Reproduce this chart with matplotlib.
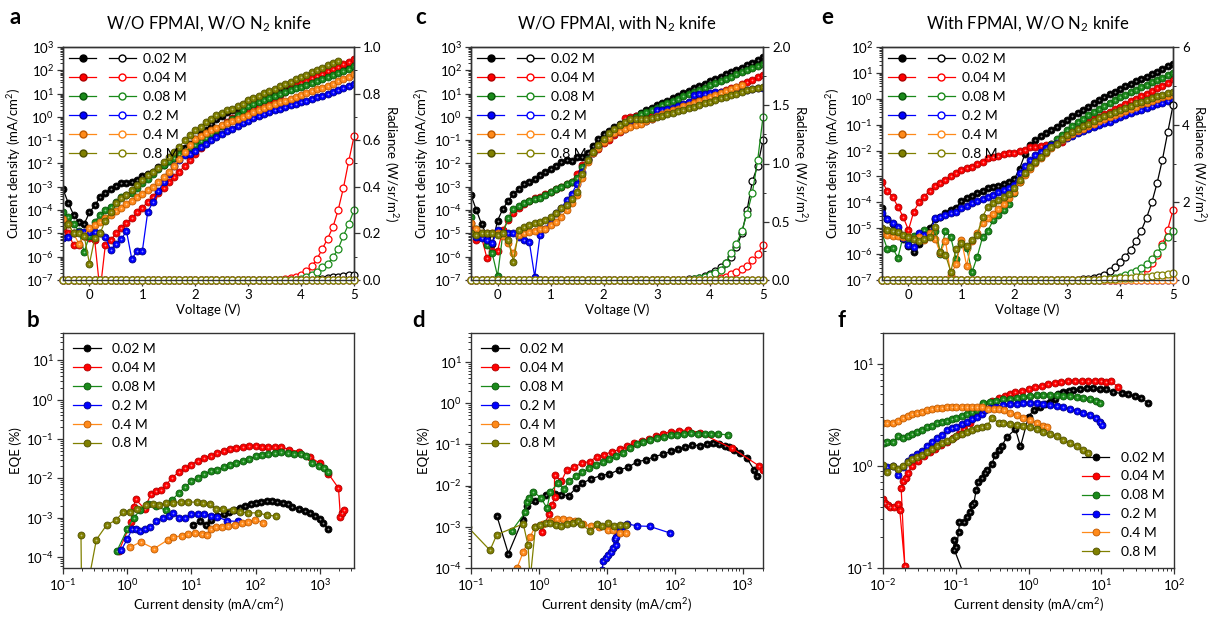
import numpy as np
import matplotlib
matplotlib.use("Agg")
import matplotlib.pyplot as plt
from matplotlib.lines import Line2D
from matplotlib.legend_handler import HandlerTuple
from matplotlib.ticker import LogLocator, MultipleLocator, NullFormatter, FormatStrFormatter

plt.rcParams['font.family'] = ['Lato', 'DejaVu Sans']
plt.rcParams['mathtext.fontset'] = 'custom'
plt.rcParams['mathtext.rm'] = 'Lato'
plt.rcParams['mathtext.it'] = 'Lato:italic'
plt.rcParams['mathtext.bf'] = 'Lato:bold'

# ---------------- data ----------------
labels = ['0.02 M', '0.04 M', '0.08 M', '0.2 M', '0.4 M', '0.8 M']
colors = ['#000000', '#ff0000', '#1a8a1a', '#0000ff', '#ff8a1a', '#808000']
edges = ['#000000', '#b00000', '#0a550a', '#00008a', '#c05a00', '#505000']

volts = [-0.5, -0.4, -0.3, -0.2, -0.1, 0.0, 0.1, 0.2, 0.3, 0.4,
         0.5, 0.6, 0.7, 0.8, 0.9, 1.0, 1.1, 1.2, 1.3, 1.4,
         1.5, 1.6, 1.7, 1.8, 1.9, 2.0, 2.1, 2.2, 2.3, 2.4,
         2.5, 2.6, 2.7, 2.8, 2.9, 3.0, 3.1, 3.2, 3.3, 3.4,
         3.5, 3.6, 3.7, 3.8, 3.9, 4.0, 4.1, 4.2, 4.3, 4.4,
         4.5, 4.6, 4.7, 4.8, 4.9, 5.0]

# panel a: log10 current density (mA/cm2)
a_black = [-3.1, -3.7, -4.2, -4.5, -4.6, -4.1, -3.8, -3.45, -3.25, -3.1,
           -2.95, -2.85, -2.85, -2.8, -2.7, -2.55, -2.45, -2.35, -2.15, -2.05,
           -1.9, -1.75, -1.55, -1.35, -1.15, -0.95, -0.75, -0.55, -0.3, -0.1,
           0.05, 0.2, 0.3, 0.4, 0.5, 0.7, 0.75, 0.8, 0.87, 0.95,
           1.03, 1.1, 1.18, 1.25, 1.33, 1.4, 1.48, 1.56, 1.64, 1.72,
           1.8, 1.88, 1.96, 2.04, 2.12, 2.2]
a_red = [-4.8, -5.0, -5.5, -5.5, -5.1, -5.2, -5.3, -7.5, -5.5, -5.3,
         -5.0, -4.75, -4.55, -4.35, -4.1, -3.9, -3.65, -3.45, -3.25, -3.05,
         -2.8, -2.6, -2.35, -2.1, -1.85, -1.6, -1.35, -1.1, -0.85, -0.6,
         -0.4, -0.2, -0.05, 0.1, 0.22, 0.32, 0.4, 0.47, 0.56, 0.67,
         0.8, 0.93, 1.05, 1.2, 1.35, 1.45, 1.55, 1.65, 1.75, 1.85,
         1.95, 2.05, 2.15, 2.25, 2.37, 2.48]
a_green = [-4.1, -4.3, -4.6, -4.9, -5.8, -5.1, -4.5, -4.2, -4.0, -3.85,
           -3.65, -3.45, -3.35, -3.25, -3.05, -2.85, -2.65, -2.45, -2.25, -2.05,
           -1.9, -1.75, -1.6, -1.5, -1.35, -1.2, -1.05, -0.9, -0.72, -0.55,
           -0.4, -0.25, -0.1, 0.1, 0.3, 0.45, 0.55, 0.64, 0.73, 0.82,
           0.9, 0.98, 1.06, 1.14, 1.22, 1.3, 1.38, 1.46, 1.54, 1.62,
           1.7, 1.78, 1.87, 1.96, 2.06, 2.2]
a_blue = [-5.2, -5.15, -5.0, -4.95, -4.95, -4.95, -4.95, -5.0, -5.15, -5.7,
          -5.45, -5.25, -4.9, -6.1, -5.75, -5.75, -4.1, -3.65, -3.2, -2.8,
          -2.45, -2.1, -1.85, -1.65, -1.6, -1.45, -1.3, -1.15, -1.0, -0.87,
          -0.74, -0.62, -0.5, -0.38, -0.27, -0.16, -0.06, 0.04, 0.13, 0.21,
          0.28, 0.35, 0.42, 0.49, 0.56, 0.63, 0.7, 0.77, 0.84, 0.91,
          0.98, 1.06, 1.14, 1.23, 1.32, 1.42]
a_orange = [-4.4, -4.6, -5.0, -5.45, -5.1, -4.75, -4.65, -4.5, -4.35, -4.2,
            -4.05, -3.9, -3.75, -3.6, -3.45, -3.3, -3.15, -3.0, -2.8, -2.6,
            -2.35, -2.1, -1.8, -1.5, -1.2, -0.95, -0.8, -0.68, -0.57, -0.46,
            -0.36, -0.26, -0.17, -0.08, 0.01, 0.1, 0.19, 0.28, 0.37, 0.46,
            0.54, 0.62, 0.7, 0.78, 0.86, 0.94, 1.02, 1.1, 1.18, 1.26,
            1.34, 1.43, 1.52, 1.62, 1.72, 1.83]
a_olive = [-4.7, -4.6, -5.0, -5.0, -5.1, -6.3, -5.2, -5.0, -4.45, -4.07,
           -3.7, -3.5, -3.36, -3.14, -2.93, -2.71, -2.5, -2.36, -2.21, -1.93,
           -1.71, -1.5, -1.29, -1.0, -0.79, -0.57, -0.43, -0.21, -0.07, 0.07,
           0.17, 0.29, 0.36, 0.46, 0.54, 0.71, 0.81, 0.91, 1.01, 1.11,
           1.21, 1.31, 1.41, 1.51, 1.61, 1.71, 1.81, 1.91, 2.01, 2.11,
           2.21, 2.31, 2.41, None, None, None]
# panel a: radiance (W/sr/m2)
a_black_rad = [0] * 40 + [0, 0, 0, 0, 0, 0.001, 0.002, 0.003, 0.004, 0.005,
                          0.008, 0.011, 0.014, 0.017, 0.02, 0.022]
a_red_rad = [0] * 40 + [0, 0.002, 0.004, 0.008, 0.014, 0.023, 0.037, 0.059, 0.09, 0.133,
                        0.177, 0.226, 0.30, 0.395, 0.51, 0.616]
a_green_rad = [0] * 40 + [0, 0, 0, 0, 0.002, 0.005, 0.012, 0.02, 0.033, 0.054,
                          0.069, 0.097, 0.133, 0.19, 0.24, 0.30]
a_blue_rad = [0] * 56
a_orange_rad = [0] * 56
a_olive_rad = [0] * 56

# panel c
c_black = [-3.35, -4.0, -4.6, -5.1, -5.45, -4.45, -3.95, -3.6, -3.3, -3.1,
           -2.9, -2.8, -2.65, -2.5, -2.38, -2.25, -2.1, -1.95, -1.85, -1.9,
           -1.7, -1.72, -1.55, -1.25, -0.95, -0.75, -0.6, -0.45, -0.32, -0.2,
           -0.08, 0.05, 0.17, 0.29, 0.4, 0.5, 0.6, 0.7, 0.8, 0.9,
           1.02, 1.12, 1.22, 1.32, 1.42, 1.52, 1.62, 1.72, 1.82, 1.92,
           2.02, 2.12, 2.22, 2.32, 2.43, 2.55]
c_red = [-4.57, -5.29, -5.17, -6.07, -5.74, -5.74, -4.86, -4.43, -4.11, -3.93,
         -3.74, -3.6, -3.5, -3.43, -3.33, -3.21, -3.11, -3.0, -2.89, -2.79,
         -2.43, -2.07, -1.79, -1.57, -1.36, -1.14, -0.97, -0.79, -0.64, -0.05,
         0.0, 0.04, 0.08, 0.12, 0.16, 0.2, 0.25, 0.3, 0.36, 0.42,
         0.5, 0.58, 0.66, 0.74, 0.82, 0.9, 0.98, 1.06, 1.14, 1.22,
         1.3, 1.4, 1.5, 1.6, 1.7, 1.8]
c_green = [-4.29, -4.83, -5.14, -5.5, -5.86, -6.83, -5.0, -4.36, -3.97, -3.83,
           -3.71, -3.61, -3.54, -3.46, -3.36, -3.24, -3.11, -3.0, -2.9, -2.79,
           -2.64, -2.14, -1.79, -1.5, -1.26, -1.0, -0.79, -0.61, -0.43, -0.26,
           -0.11, 0.0, 0.11, 0.2, 0.29, 0.4, 0.5, 0.59, 0.69, 0.78,
           0.88, 0.97, 1.07, 1.16, 1.25, 1.35, 1.44, 1.54, 1.63, 1.73,
           1.82, 1.91, 2.01, 2.1, 2.2, 2.29]
c_blue = [-5.0, -5.17, -5.21, -5.29, -5.43, -4.86, -5.07, -5.0, -5.0, -5.15,
          -5.29, -5.39, -6.86, -5.07, -4.79, -4.43, -4.14, -3.93, -3.57, -3.29,
          -2.86, -2.36, -1.86, -1.57, -1.29, -1.04, -0.86, -0.71, -0.57, -0.5,
          -0.4, -0.31, -0.26, -0.17, -0.11, 0.29, 0.31, 0.35, 0.4, 0.47,
          0.55, 0.62, 0.93, 0.97, 1.0, 1.03, 1.05, 1.07, 1.09, 1.11,
          1.13, 1.15, 1.17, 1.2, 1.22, 1.25]
c_orange = [-4.54, -4.8, -5.0, -5.0, -5.0, -5.0, -5.1, -5.43, -5.86, -5.07,
            -5.0, -4.93, -4.9, -4.83, -4.79, -4.64, -4.5, -4.29, -4.0, -3.71,
            -3.36, -2.64, -1.93, -1.57, -1.33, -1.07, -0.89, -0.71, -0.6, -0.5,
            -0.43, -0.36, -0.29, -0.17, -0.07, 0.03, 0.11, 0.2, 0.28, 0.36,
            0.45, 0.53, 0.61, 0.7, 0.78, 0.86, 0.95, 1.03, 1.11, 1.2,
            1.28, 1.36, None, None, None, None]
c_olive = [-5.0, -5.07, -5.0, -5.0, -5.0, -5.07, -5.0, -5.29, -6.21, -4.86,
           -4.71, -4.64, -4.57, -4.5, -4.43, -4.29, -4.14, -3.93, -3.79, -3.54,
           -3.21, -2.43, -1.86, -1.5, -1.19, -0.93, -0.71, -0.54, -0.36, -0.21,
           -0.11, -0.07, -0.07, -0.07, -0.03, 0.0, 0.06, 0.12, 0.18, 0.24,
           0.3, 0.37, 0.44, 0.51, 0.58, 0.65, 0.72, 0.79, 0.86, 0.93,
           1.0, 1.07, 1.14, 1.2, 1.25, 1.3]
c_black_rad = [0] * 40 + [0, 0.005, 0.01, 0.02, 0.035, 0.05, 0.08, 0.11, 0.15, 0.2,
                          0.28, 0.4, 0.6, 0.85, 0.98, 1.2]
c_red_rad = [0] * 40 + [0, 0, 0, 0, 0, 0, 0.005, 0.015, 0.025, 0.05,
                        0.066, 0.095, 0.12, 0.17, 0.22, 0.3]
c_green_rad = [0] * 40 + [0, 0.003, 0.008, 0.015, 0.025, 0.04, 0.06, 0.09, 0.15, 0.23,
                          0.31, 0.42, 0.57, 0.75, 1.03, 1.4]
c_blue_rad = [0] * 56
c_orange_rad = [0] * 56
c_olive_rad = [0] * 56

# panel e
e_black = [-4.2, -4.65, -4.85, -5.1, -5.4, -5.7, -5.9, -5.6, -5.3, -5.0,
           -4.65, -4.55, -4.4, -4.3, -4.2, -3.95, -3.85, -3.75, -3.65, -3.55,
           -3.45, -3.4, -3.35, -3.3, -3.22, -3.1, -2.7, -2.15, -1.8, -1.6,
           -1.45, -1.32, -1.2, -1.08, -0.95, -0.82, -0.68, -0.55, -0.42, -0.3,
           -0.17, -0.05, 0.07, 0.18, 0.28, 0.38, 0.48, 0.58, 0.67, 0.76,
           0.85, 0.95, 1.05, 1.15, 1.25, 1.36]
e_red = [-3.2, -3.55, -3.78, -4.17, -4.56, -5.07, -4.36, -4.0, -3.78, -3.55,
         -3.36, -3.24, -3.12, -2.99, -2.86, -2.76, -2.69, -2.63, -2.52, -2.43,
         -2.27, -2.24, -2.22, -2.14, -2.11, -2.09, -2.01, -1.96, -1.88, -1.86,
         -1.83, -1.79, -1.75, -1.7, -1.66, -1.45, -1.3, -1.15, -1.02, -0.9,
         -0.8, -0.7, -0.6, -0.5, -0.4, -0.3, -0.2, -0.1, 0.0, 0.1,
         0.2, 0.3, 0.4, 0.5, 0.62, 0.75]
e_green = [-5.2, -5.8, -5.75, -6.15, -5.3, -5.55, -5.3, -5.45, -5.05, -5.25,
           -5.1, -6.0, -5.1, -5.35, -6.2, -5.6, -5.75, -6.7, -6.1, -5.35,
           -5.1, -4.7, -4.5, -4.3, -4.05, -3.65, -3.2, -2.9, -2.62, -2.4,
           -2.18, -1.96, -1.76, -1.57, -1.4, -1.2, -1.05, -0.9, -0.77, -0.64,
           -0.52, -0.4, -0.28, -0.15, -0.05, 0.05, 0.15, 0.25, 0.35, 0.45,
           0.54, 0.63, 0.72, 0.81, 0.9, 0.98]
e_blue = [-4.43, -4.66, -4.79, -4.94, -5.39, -5.65, -5.71, -5.2, -5.25, -5.3,
          -4.62, -4.56, -4.49, -4.43, -4.36, -4.23, -4.14, -4.04, -3.95, -3.87,
          -3.81, -3.72, -3.62, -3.53, -3.46, -3.33, -2.88, -2.59, -2.37, -2.18,
          -2.05, -1.92, -1.8, -1.7, -1.6, -1.5, -1.42, -1.34, -1.26, -1.18,
          -1.1, -1.02, -0.95, -0.88, -0.8, -0.72, -0.64, -0.56, -0.49, -0.42,
          -0.35, -0.28, -0.21, -0.15, -0.1, -0.05]
e_orange = [-5.2, -5.25, -5.3, -5.3, -5.35, -5.3, -5.4, -5.35, -5.45, -5.2,
            -5.4, -5.95, -5.5, -6.8, -6.4, -5.45, -6.45, -5.5, -5.2, -4.8,
            -4.6, -4.45, -4.25, -4.05, -3.85, -3.6, -3.2, -2.95, -2.7, -2.47,
            -2.27, -2.09, -1.92, -1.75, -1.6, -1.47, -1.36, -1.25, -1.15, -1.05,
            -0.96, -0.87, -0.78, -0.7, -0.62, -0.54, -0.46, -0.38, -0.3, -0.22,
            -0.15, -0.08, -0.01, 0.05, 0.1, 0.15]
e_olive = [-5.0, -5.07, -5.1, -5.13, -5.26, -5.33, -5.43, -5.48, -5.43, -5.33,
           -4.94, -5.9, -6.03, -6.68, -5.8, -5.58, -5.7, -5.46, -5.25, -4.56,
           -4.17, -4.04, -3.91, -3.78, -3.66, -3.46, -3.14, -2.88, -2.63, -2.43,
           -2.24, -2.05, -1.88, -1.73, -1.57, -1.41, -1.28, -1.17, -1.06, -0.96,
           -0.86, -0.76, -0.67, -0.58, -0.5, -0.42, -0.34, -0.26, -0.18, -0.11,
           -0.04, 0.03, 0.1, 0.16, 0.21, 0.27]
e_black_rad = [0] * 37 + [0.01, 0.02, 0.03,
                          0.05, 0.09, 0.14, 0.22, 0.33, 0.46, 0.6, 0.78, 1.0, 1.27,
                          1.6, 2.0, 2.5, 3.1, 3.8, 4.5]
e_red_rad = [0] * 45 + [0.02, 0.04, 0.07, 0.12, 0.19, 0.3, 0.45, 0.65, 0.92, 1.3, 1.8]
e_green_rad = [0] * 43 + [0.03, 0.05, 0.08, 0.12, 0.17, 0.24, 0.32, 0.42, 0.55, 0.7,
                          0.88, 1.1, 1.27]
e_blue_rad = [0] * 56
e_orange_rad = [0] * 56
e_olive_rad = [0] * 40 + [0.005, 0.01, 0.015, 0.02, 0.03, 0.04, 0.05, 0.06, 0.07, 0.08,
                          0.09, 0.11, 0.12, 0.14, 0.16, 0.18]

# panel b: log10 J (mA/cm2), log10 EQE (%)
b_black_j = [1.03, 1.13, 1.22, 1.3, 1.4, 1.5, 1.58, 1.67, 1.75, 1.83, 1.92, 2.0, 2.08,
             2.17, 2.25, 2.33, 2.42, 2.5, 2.57, 2.67, 2.77, 2.85, 2.92, 3.0, 3.05, 3.13]
b_black_e = [-3.2, -3.1, -3.18, -3.05, -2.95, -2.9, -2.85, -2.8, -2.75, -2.7, -2.66, -2.63, -2.6,
             -2.58, -2.58, -2.6, -2.62, -2.65, -2.72, -2.78, -2.83, -2.88, -2.95, -3.03, -3.13, -3.3]
b_red_j = [-0.13, 0.06, 0.1, 0.13, 0.27, 0.37, 0.45, 0.53, 0.6, 0.7, 0.8, 0.9, 1.0, 1.1, 1.2,
           1.3, 1.4, 1.5, 1.6, 1.7, 1.8, 1.9, 2.0, 2.1, 2.2, 2.3, 2.4, 2.52, 2.68, 2.85,
           3.0, 3.13, 3.29, 3.32, 3.34, 3.37]
b_red_e = [-3.85, -3.12, -2.72, -2.53, -2.78, -2.4, -2.32, -2.3, -2.18, -1.98, -1.85, -1.75,
           -1.65, -1.55, -1.48, -1.42, -1.36, -1.3, -1.26, -1.22, -1.2, -1.18, -1.17, -1.2,
           -1.2, -1.2, -1.2, -1.27, -1.32, -1.46, -1.62, -1.88, -2.25, -2.98, -2.88, -2.82]
b_green_j = [-0.16, 0.0, 0.1, 0.2, 0.32, 0.45, 0.6, 0.7, 0.8, 0.9, 1.0, 1.1, 1.2, 1.3, 1.4,
             1.5, 1.6, 1.7, 1.8, 1.9, 2.0, 2.1, 2.2, 2.3, 2.4, 2.5, 2.6, 2.7, 2.78, 2.88,
             2.98, 3.06, 3.13]
b_green_e = [-3.85, -3.3, -3.0, -2.82, -2.65, -2.7, -2.82, -2.55, -2.38, -2.22, -2.08, -1.98,
             -1.88, -1.82, -1.78, -1.72, -1.66, -1.6, -1.55, -1.5, -1.44, -1.4, -1.37, -1.35,
             -1.34, -1.35, -1.37, -1.38, -1.43, -1.6, -1.68, -1.75, -1.83]
b_blue_j = [-0.09, 0.0, 0.08, 0.14, 0.2, 0.27, 0.35, 0.45, 0.55, 0.65, 0.72, 0.8, 0.9, 1.0,
            1.1, 1.2, 1.3, 1.4, 1.55, 1.72]
b_blue_e = [-3.82, -3.55, -3.28, -3.3, -3.35, -3.3, -3.25, -3.1, -3.0, -2.95, -2.88, -3.0,
            -3.02, -2.92, -2.92, -2.9, -2.95, -2.98, -3.08, -3.1]
b_orange_j = [0.04, 0.21, 0.42, 0.64, 0.71, 0.86, 0.95, 1.05, 1.16, 1.24, 1.3, 1.39, 1.47,
              1.57, 1.68, 1.78, 1.88, 1.99, 2.12]
b_orange_e = [-3.76, -3.62, -3.79, -3.56, -3.49, -3.47, -3.42, -3.4, -3.42, -3.45, -3.28,
              -3.25, -3.23, -3.22, -3.19, -3.15, -3.11, -3.06, -3.13]
b_olive_j = [-0.72, -0.71, -0.6, -0.48, -0.32, -0.17, -0.06, 0.05, 0.15, 0.3, 0.4, 0.5, 0.61,
             0.71, 0.84, 0.95, 1.08, 1.18, 1.29, 1.39, 1.49, 1.65, 1.75, 1.88, 2.04, 2.17, 2.32]
b_olive_e = [-3.45, -5.0, -4.6, -3.56, -3.19, -3.06, -2.85, -2.86, -2.77, -2.68, -2.66, -2.68,
             -2.64, -2.62, -2.6, -2.6, -2.61, -2.64, -2.66, -2.79, -2.79, -2.81, -2.85, -2.88,
             -2.88, -2.94, -2.96]

# panel d
d_black_j = [-0.62, -0.45, -0.24, -0.18, -0.05, 0.1, 0.23, 0.33, 0.44, 0.54, 0.64, 0.77, 0.91,
             1.04, 1.18, 1.31, 1.45, 1.58, 1.7, 1.83, 1.95, 2.05, 2.15, 2.26, 2.37, 2.47, 2.57,
             2.66, 2.74, 2.8, 2.88, 2.96, 3.06, 3.17, 3.22]
d_black_e = [-2.73, -3.65, -2.83, -2.5, -2.37, -2.22, -2.2, -2.22, -2.25, -2.07, -1.94, -1.84,
             -1.76, -1.72, -1.62, -1.56, -1.42, -1.38, -1.3, -1.24, -1.17, -1.12, -1.07, -1.02,
             -1.03, -1.0, -0.98, -1.0, -1.03, -1.07, -1.13, -1.2, -1.33, -1.62, -1.78]
d_red_j = [0.04, 0.15, 0.2, 0.23, 0.23, 0.33, 0.41, 0.52, 0.64, 0.75, 0.85, 0.96, 1.08, 1.2,
           1.3, 1.4, 1.52, 1.62, 1.72, 1.83, 1.95, 2.07, 2.2, 2.37, 2.85, 3.24, 3.3]
d_red_e = [-3.13, -2.68, -2.47, -2.27, -1.74, -1.9, -1.62, -1.55, -1.45, -1.42, -1.3, -1.25,
           -1.18, -1.12, -1.05, -0.98, -0.93, -0.88, -0.8, -0.74, -0.7, -0.67, -0.65, -0.72,
           -1.1, -1.52, -1.62]
d_green_j = [-0.4, -0.2, -0.18, -0.15, -0.08, 0.03, 0.12, 0.17, 0.28, 0.37, 0.45, 0.54, 0.64,
             0.74, 0.84, 0.94, 1.04, 1.14, 1.24, 1.34, 1.44, 1.54, 1.64, 1.74, 1.84, 1.94, 2.04,
             2.14, 2.24, 2.34, 2.44, 2.54, 2.64, 2.78]
d_green_e = [-3.1, -2.65, -2.4, -2.3, -2.15, -2.3, -2.55, -2.15, -1.95, -2.08, -1.88, -1.78,
             -1.68, -1.58, -1.5, -1.42, -1.35, -1.28, -1.2, -1.1, -1.0, -0.95, -0.9, -0.85,
             -0.82, -0.78, -0.77, -0.75, -0.72, -0.75, -0.75, -0.75, -0.75, -0.77]
d_blue_j = [0.93, 0.95, 0.99, 1.02, 1.06, 1.09, 1.13, 1.12, 1.14, 1.17, 1.2, 1.24, 1.3, 1.45,
            1.63, 1.93]
d_blue_e = [-4.05, -3.82, -3.75, -3.68, -3.6, -3.52, -3.45, -3.3, -3.25, -3.12, -3.0, -2.98,
            -2.93, -2.98, -2.99, -3.15]
d_orange_j = [-0.32, -0.23, -0.13, -0.06, 0.06, 0.18, 0.27, 0.36, 0.45, 0.53, 0.65, 0.77,
              0.89, 1.02, 1.09, 1.19, 1.29]
d_orange_e = [-3.99, -3.61, -3.25, -3.01, -2.93, -2.85, -2.82, -2.8, -2.83, -2.86, -2.93,
              -2.99, -3.01, -3.09, -3.09, -3.15, -3.15]
d_olive_j = [-1.05, -0.72, -0.62, -0.23, -0.16, -0.13, -0.05, 0.02, 0.1, 0.17, 0.25, 0.33,
             0.42, 0.5, 0.58, 0.62, 0.75, 0.86, 0.93, 1.02, 1.1, 1.2, 1.28]
d_olive_e = [-3.0, -3.57, -3.19, -2.93, -3.45, -4.3, -3.0, -2.95, -2.92, -2.9, -2.95, -2.97,
             -2.93, -2.9, -2.85, -2.93, -3.1, -2.94, -2.97, -2.92, -2.97, -2.95, -2.95]

# panel f
f_black_j = [-0.87, -1.02, -1.03, -0.99, -0.96, -0.95, -0.89, -0.85, -0.8, -0.77, -0.75,
             -0.72, -0.69, -0.64, -0.6, -0.57, -0.5, -0.46, -0.41, -0.37, -0.3, -0.18, -0.11,
             0.0, 0.07, 0.16, 0.23, 0.29, 0.36, 0.41, 0.48, 0.55, 0.61, 0.71, 0.8, 0.89, 0.98,
             1.07, 1.16, 1.28, 1.37, 1.46, 1.55, 1.64]
f_black_e = [-1.1, -0.82, -0.73, -0.79, -0.65, -0.55, -0.55, -0.5, -0.45, -0.38, -0.36,
             -0.24, -0.16, -0.12, -0.07, -0.04, 0.02, 0.11, 0.16, 0.19, 0.28, 0.36, 0.19,
             0.48, 0.55, 0.58, 0.61, 0.63, 0.65, 0.7, 0.72, 0.73, 0.74, 0.75, 0.76, 0.76, 0.75,
             0.75, 0.72, 0.71, 0.7, 0.68, 0.66, 0.62]
f_red_j = [-2.0, -1.97, -1.93, -1.9, -1.85, -1.8, -1.77, -1.7, -1.75, -1.72, -1.69, -1.66,
           -1.6, -1.52, -1.44, -1.36, -1.28, -1.2, -1.12, -1.04, -0.96, -0.88, -0.8, -0.72,
           -0.66, -0.62, -0.5, -0.41, -0.32, -0.25, -0.18, -0.09, 0.0, 0.09, 0.18, 0.27, 0.36,
           0.45, 0.54, 0.64, 0.73, 0.82, 0.91, 1.0, 1.07, 1.14, 1.23]
f_red_e = [-0.32, -0.36, -0.38, -0.4, -0.4, -0.37, -0.43, -0.98, -0.22, -0.15, -0.12, -0.07,
           0.0, 0.05, 0.1, 0.14, 0.17, 0.2, 0.23, 0.27, 0.31, 0.36, 0.42, 0.5, 0.57, 0.61,
           0.64, 0.66, 0.68, 0.7, 0.72, 0.73, 0.75, 0.77, 0.78, 0.8, 0.81, 0.82, 0.83, 0.83,
           0.83, 0.83, 0.83, 0.83, 0.82, 0.83, 0.77]
f_green_j = [-1.99, -1.94, -1.86, -1.8, -1.73, -1.66, -1.6, -1.53, -1.47, -1.4, -1.33, -1.26,
             -1.19, -1.12, -1.05, -0.99, -0.92, -0.85, -0.78, -0.71, -0.62, -0.53, -0.44,
             -0.35, -0.25, -0.16, -0.07, 0.02, 0.11, 0.2, 0.29, 0.39, 0.48, 0.57, 0.66, 0.75,
             0.84, 0.93, 0.98]
f_green_e = [0.22, 0.23, 0.23, 0.29, 0.27, 0.29, 0.31, 0.33, 0.35, 0.38, 0.39, 0.42, 0.43,
             0.44, 0.46, 0.47, 0.49, 0.51, 0.53, 0.55, 0.62, 0.63, 0.64, 0.65, 0.655, 0.66,
             0.67, 0.68, 0.69, 0.695, 0.695, 0.69, 0.685, 0.68, 0.67, 0.66, 0.65, 0.635, 0.62]
f_blue_j = [-2.0, -1.94, -1.86, -1.8, -1.73, -1.66, -1.6, -1.53, -1.47, -1.4, -1.33, -1.26,
            -1.19, -1.12, -1.05, -0.99, -0.92, -0.85, -0.78, -0.71, -0.64, -0.6, -0.53, -0.44,
            -0.35, -0.25, -0.16, -0.07, 0.02, 0.11, 0.2, 0.29, 0.39, 0.48, 0.57, 0.66, 0.75,
            0.84, 0.93, 0.98, 1.01]
f_blue_e = [-0.04, -0.01, 0.0, -0.09, -0.01, 0.05, 0.09, 0.12, 0.15, 0.19, 0.23, 0.27, 0.3,
            0.35, 0.37, 0.38, 0.41, 0.43, 0.46, 0.48, 0.51, 0.55, 0.565, 0.58, 0.6, 0.605,
            0.61, 0.614, 0.614, 0.614, 0.607, 0.597, 0.588, 0.574, 0.558, 0.542, 0.522, 0.496,
            0.466, 0.434, 0.401]
f_orange_j = [-2.0, -1.94, -1.86, -1.8, -1.73, -1.66, -1.6, -1.53, -1.47, -1.4, -1.33, -1.26,
              -1.19, -1.12, -1.05, -0.99, -0.92, -0.85, -0.78, -0.71, -0.64, -0.55, -0.48,
              -0.41, -0.34, -0.25, -0.16, -0.07, 0.02, 0.11, 0.2, 0.25]
f_orange_e = [0.42, 0.42, 0.42, 0.44, 0.47, 0.49, 0.51, 0.52, 0.53, 0.55, 0.56, 0.565, 0.57,
              0.575, 0.578, 0.58, 0.58, 0.58, 0.58, 0.58, 0.575, 0.555, 0.555, 0.552, 0.545,
              0.52, 0.495, 0.47, 0.445, 0.42, 0.39, 0.38]
f_olive_j = [-2.0, -1.94, -1.86, -1.8, -1.73, -1.66, -1.6, -1.53, -1.47, -1.4, -1.33, -1.26,
             -1.19, -1.12, -1.05, -0.99, -0.92, -0.85, -0.78, -0.71, -0.64, -0.57, -0.5,
             -0.41, -0.35, -0.25, -0.16, -0.07, 0.02, 0.11, 0.2, 0.29, 0.39, 0.48, 0.57, 0.66,
             0.75, 0.82]
f_olive_e = [0.01, -0.06, 0.0, -0.03, 0.0, 0.04, 0.07, 0.09, 0.11, 0.14, 0.17, 0.19, 0.22,
             0.24, 0.26, 0.29, 0.31, 0.33, 0.35, 0.37, 0.38, 0.39, 0.47, 0.42, 0.42, 0.41, 0.4,
             0.39, 0.38, 0.36, 0.335, 0.31, 0.29, 0.25, 0.22, 0.19, 0.155, 0.13]

# ---------------- drawing ----------------
W, H = 1224, 617
fig = plt.figure(figsize=(W / 100, H / 100), dpi=100)
MS = 5.0
TICK_FS = 9.5
LABEL_FS = 9.5


def px_rect(l, t, r, b):
    return [l / W, 1 - b / H, (r - l) / W, (b - t) / H]


def balls(ax, x, y, c, ec, ms=MS, label=None):
    ax.plot(x, y, color=c, lw=0.9, marker='o', ms=ms, mfc=c, mec=ec, mew=0.6, label=label)
    # small specular spot so the filled markers read as shaded balls
    ax.plot(x, y, ls='none', marker='o', ms=1.3, mfc='white', mec='none', alpha=0.55)


def style(ax, ticks_right=False):
    for s in ax.spines.values():
        s.set_linewidth(1.0)
        s.set_color('#333333')
    ax.tick_params(which='both', direction='out', top=False, right=ticks_right,
                   labelsize=TICK_FS, color='#333333', pad=2.5)
    ax.tick_params(which='major', length=4, width=0.9)
    ax.tick_params(which='minor', length=2, width=0.7)


def log_ticks(axis):
    axis.set_major_locator(LogLocator(base=10, numticks=20))
    axis.set_minor_locator(LogLocator(base=10, subs=np.arange(2, 10), numticks=20))
    axis.set_minor_formatter(NullFormatter())


def panel_letter(letter, xy):
    fig.text(xy[0] / W, 1 - xy[1] / H, letter, fontsize=16, fontweight='bold',
             va='baseline', ha='left')


def jv_panel(box, jsets, radsets, jtop, radtop, radmaj, radmin, title, letter, lxy):
    ax = fig.add_axes(px_rect(*box))
    for lj, c, ec in zip(jsets, colors, edges):
        balls(ax, volts, 10 ** np.array(lj, dtype=float), c, ec)
    ax.set_yscale('log')
    ax.set_xlim(-0.5, 5)
    ax.set_ylim(1e-7, jtop)
    log_ticks(ax.yaxis)
    ax.xaxis.set_major_locator(MultipleLocator(1))
    ax.xaxis.set_minor_locator(MultipleLocator(0.5))
    style(ax)
    ax.set_xlabel('Voltage (V)', fontsize=LABEL_FS, labelpad=2)
    ax.set_ylabel('Current density (mA/cm$^2$)', fontsize=LABEL_FS, labelpad=2)
    ax.set_title(title, fontsize=12, pad=13)

    ax2 = ax.twinx()
    for r, c in zip(radsets, colors):
        ax2.plot(volts, r, color=c, lw=0.9, marker='o', ms=MS, mfc='white', mec=c,
                 mew=0.9, clip_on=False)
    ax2.set_ylim(0, radtop)
    ax2.yaxis.set_major_locator(MultipleLocator(radmaj))
    ax2.yaxis.set_minor_locator(MultipleLocator(radmin))
    style(ax2, ticks_right=True)
    ax2.tick_params(which='both', left=False)
    if radtop < 2.5:
        ax2.yaxis.set_major_formatter(FormatStrFormatter('%.1f'))
    ax2.set_ylabel('Radiance (W/sr/m$^2$)', fontsize=LABEL_FS, rotation=270, labelpad=13)

    handles = []
    for c, ec in zip(colors, edges):
        h1 = Line2D([], [], color=c, lw=0.9, marker='o', ms=MS, mfc=c, mec=ec)
        h2 = Line2D([], [], color=c, lw=0.9, marker='o', ms=MS, mfc='white', mec=c)
        handles.append((h1, h2))
    ax2.legend(handles, labels, handler_map={tuple: HandlerTuple(ndivide=None, pad=0.9)},
               loc='upper left', frameon=False, fontsize=10, handlelength=4.8,
               borderaxespad=0.05, labelspacing=0.5, handletextpad=0.5, numpoints=1)
    panel_letter(letter, lxy)
    return ax


def eqe_panel(box, jsets, esets, xlim, ylim, letter, lxy, legloc):
    ax = fig.add_axes(px_rect(*box))
    for lj, le, c, ec, lab in zip(jsets, esets, colors, edges, labels):
        balls(ax, 10 ** np.array(lj), 10 ** np.array(le), c, ec, label=lab)
    ax.set_xscale('log')
    ax.set_yscale('log')
    ax.set_xlim(*xlim)
    ax.set_ylim(*ylim)
    log_ticks(ax.xaxis)
    log_ticks(ax.yaxis)
    style(ax)
    ax.set_xlabel('Current density (mA/cm$^2$)', fontsize=LABEL_FS, labelpad=2)
    ax.set_ylabel('EQE (%)', fontsize=LABEL_FS, labelpad=3)
    ax.legend(loc=legloc, frameon=False, fontsize=10, handlelength=2.0,
              borderaxespad=0.3, labelspacing=0.5, handletextpad=0.8, numpoints=1)
    panel_letter(letter, lxy)
    return ax


jv_panel((63, 47, 354, 280),
         [a_black, a_red, a_green, a_blue, a_orange, a_olive],
         [a_black_rad, a_red_rad, a_green_rad, a_blue_rad, a_orange_rad, a_olive_rad],
         1e3, 1.0, 0.2, 0.1, 'W/O FPMAI, W/O N$_2$ knife', 'a', (10, 24))
jv_panel((471, 47, 763, 280),
         [c_black, c_red, c_green, c_blue, c_orange, c_olive],
         [c_black_rad, c_red_rad, c_green_rad, c_blue_rad, c_orange_rad, c_olive_rad],
         1e3, 2.0, 0.5, 0.25, 'W/O FPMAI, with N$_2$ knife', 'c', (415, 24))
jv_panel((882, 47, 1173, 280),
         [e_black, e_red, e_green, e_blue, e_orange, e_olive],
         [e_black_rad, e_red_rad, e_green_rad, e_blue_rad, e_orange_rad, e_olive_rad],
         1e2, 6.0, 2.0, 1.0, 'With FPMAI, W/O N$_2$ knife', 'e', (821, 24))

eqe_panel((63, 333, 354, 568),
          [b_black_j, b_red_j, b_green_j, b_blue_j, b_orange_j, b_olive_j],
          [b_black_e, b_red_e, b_green_e, b_blue_e, b_orange_e, b_olive_e],
          (0.1, 3400), (5.2e-5, 50), 'b', (27, 327), 'upper left')
eqe_panel((471, 333, 763, 568),
          [d_black_j, d_red_j, d_green_j, d_blue_j, d_orange_j, d_olive_j],
          [d_black_e, d_red_e, d_green_e, d_blue_e, d_orange_e, d_olive_e],
          (0.1, 2000), (1e-4, 50), 'd', (412, 327), 'upper left')
eqe_panel((883, 333, 1174, 568),
          [f_black_j, f_red_j, f_green_j, f_blue_j, f_orange_j, f_olive_j],
          [f_black_e, f_red_e, f_green_e, f_blue_e, f_orange_e, f_olive_e],
          (1e-2, 1e2), (0.1, 20), 'f', (838, 327), 'lower right')

fig.savefig('out.png', dpi=100)
